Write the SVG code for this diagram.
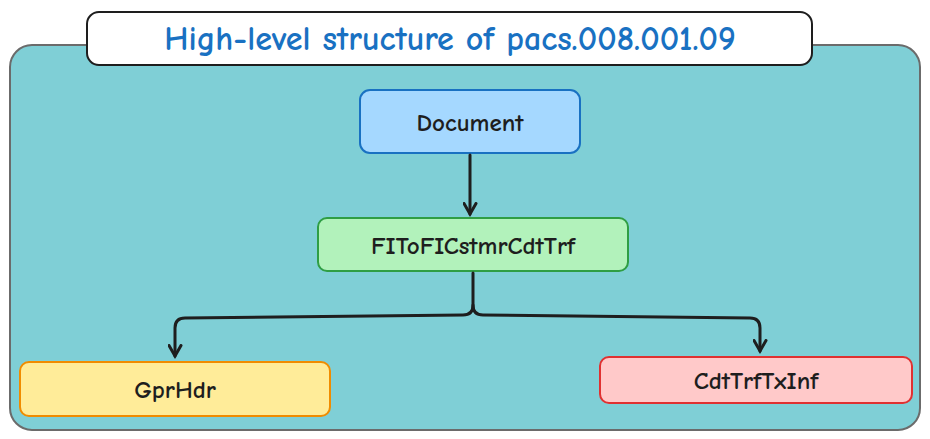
<svg xmlns="http://www.w3.org/2000/svg" width="930" height="439" viewBox="0 0 930 439">
<style>
.t{font-family:"Comic Neue","Liberation Sans",sans-serif;font-size:25px;font-weight:bold;fill:#1e1e1e;text-anchor:middle;dominant-baseline:central}
.c{fill:none;stroke:#1e1e1e;stroke-width:3;stroke-linecap:round;stroke-linejoin:round}
</style>
<defs><marker id="a" viewBox="0 0 10 10" refX="8" refY="5" markerWidth="5" markerHeight="5" orient="auto"><path d="M1,1 L8,5 L1,9" fill="none" stroke="#1e1e1e" stroke-width="2" stroke-linecap="round"/></marker></defs>
<rect x="10" y="45" width="910" height="385" rx="22" fill="#7fcfd6" stroke="#6b6b6b" stroke-width="2"/>
<g id="title"><rect x="87" y="12" width="725" height="53" rx="12" fill="#fff" stroke="#1e1e1e" stroke-width="2"/><text x="450" y="39" class="t" style="font-size:34px;fill:#1971c2">High-level structure of pacs.008.001.09</text></g>
<g id="document"><rect x="360" y="90" width="220" height="63" rx="10" fill="#a5d8ff" stroke="#1971c2" stroke-width="2"/><text x="470" y="122" class="t">Document</text></g>
<g id="fitofi"><rect x="318" y="218" width="310" height="53" rx="9" fill="#b2f2bb" stroke="#2f9e44" stroke-width="2"/><text x="473" y="245" class="t">FIToFICstmrCdtTrf</text></g>
<g id="gprhdr"><rect x="20" y="362" width="310" height="54" rx="9" fill="#ffec99" stroke="#f08c00" stroke-width="2"/><text x="175" y="389" class="t">GprHdr</text></g>
<g id="cdttrf"><rect x="600" y="357" width="312" height="46" rx="9" fill="#ffc9c9" stroke="#e03131" stroke-width="2"/><text x="756" y="380" class="t">CdtTrfTxInf</text></g>
<g id="connectors">
<path class="c" d="M470,155 L470,214" marker-end="url(#a)"/>
<path class="c" d="M473,273 L473,305 Q473,315 463,315 L185,318 Q175,318 175,328 L175,356" marker-end="url(#a)"/>
<path class="c" d="M473,305 Q473,315 483,315 L750,318 Q760,318 760,328 L760,351" marker-end="url(#a)"/>
</g>
</svg>
